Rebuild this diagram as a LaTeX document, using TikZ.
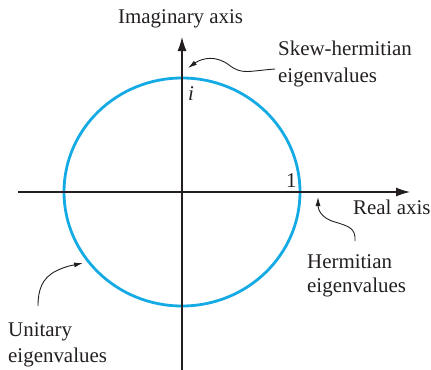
\documentclass[tikz,border=0pt]{standalone}
\usepackage{fontspec}
\setmainfont{Liberation Serif}
\newfontfamily\timesf{Liberation Serif}
\usetikzlibrary{arrows.meta,shapes.geometric}
\definecolor{circ}{RGB}{20,170,228}
\definecolor{axc}{RGB}{35,31,32}
\begin{document}
\begin{tikzpicture}[x=1bp,y=-1bp,
  lbl/.style={inner sep=0pt,font=\timesf\fontsize{21}{27}\selectfont,align=left,text=axc},
  axis/.style={draw=axc,line width=1.1bp,-{Latex[length=14bp,width=9bp]}},
  pointer/.style={draw=axc,line width=0.9bp,-{Latex[length=9bp,width=5bp]}}]
\useasboundingbox (0,0) rectangle (431,370);
% circle
\node[draw=circ,line width=2.8bp,ellipse,minimum width=236bp,minimum height=228bp,inner sep=0pt] (c) at (182,192) {};
% axes
\coordinate (xs) at (18,192);
\coordinate (xe) at (410,192);
\coordinate (ys) at (182,370);
\coordinate (ye) at (182,37);
\draw[axis] (xs) -- (xe);
\draw[axis] (ys) -- (ye);
% labels
\node[lbl,anchor=base west] (imag) at (118,23) {Imaginary axis};
\node[lbl,anchor=base west] (real) at (353,214) {Real axis};
\node[lbl,anchor=base west] (one) at (286,187) {1};
\node[lbl,anchor=base west] (ii) at (188,100) {\itshape i};
\node[lbl,anchor=base west] (skew1) at (278,55) {Skew-hermitian};
\node[lbl,anchor=base west] (skew2) at (278,82) {eigenvalues};
\node[lbl,anchor=base west] (herm1) at (307,268) {Hermitian};
\node[lbl,anchor=base west] (herm2) at (307,292) {eigenvalues};
\node[lbl,anchor=base west] (uni1) at (8,336) {Unitary};
\node[lbl,anchor=base west] (uni2) at (8,362) {eigenvalues};
% pointers
\coordinate (sk0) at (275,69);
\coordinate (sk1) at (188,68);
\draw[pointer] (sk0) .. controls (248,71) and (242,75) .. (229,65) .. controls (216,55) and (202,58) .. (sk1);
\coordinate (he0) at (355,241);
\coordinate (he1) at (318,197);
\draw[pointer] (he0) .. controls (356,228) and (348,226) .. (335,222) .. controls (320,218) and (318,208) .. (he1);
\coordinate (un0) at (38,306);
\coordinate (un1) at (83,263);
\draw[pointer] (un0) .. controls (38,290) and (42,278) .. (56,271) .. controls (66,266) and (74,265) .. (un1);
\end{tikzpicture}
\end{document}
